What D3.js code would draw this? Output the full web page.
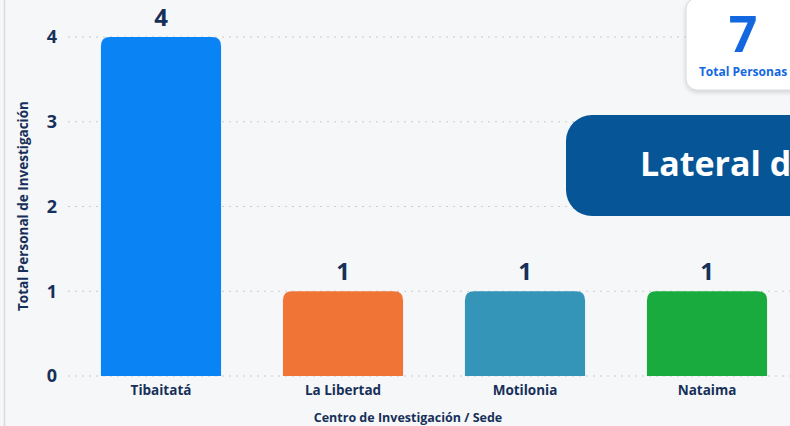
<!DOCTYPE html>
<html>
<head>
<meta charset="utf-8">
<script src="https://cdn.jsdelivr.net/npm/d3@7"></script>
<style>
  body { margin: 0; background: #f6f7f8; overflow: hidden; }
  svg { display: block; font-family: "Open Sans", "Noto Sans", sans-serif; }
</style>
</head>
<body>
<div id="chart"></div>
<script>
var width = 790;
var height = 426;

// data
var sedes = ["Tibaitatá", "La Libertad", "Motilonia", "Nataima"];
var personas = [4, 1, 1, 1];
var colores = ["#0a84f4", "#f07436", "#3495b8", "#1aab3f"];
var yTicks = [0, 1, 2, 3, 4];
var totalPersonas = 7;

var svg = d3.select("#chart").append("svg")
    .attr("width", width)
    .attr("height", height);

// panel left border
svg.append("line")
    .attr("x1", 4.5).attr("x2", 4.5)
    .attr("y1", 0).attr("y2", height)
    .style("stroke", "#d9dcdf")
    .style("stroke-width", 1.5);

var x = d3.scaleBand()
    .domain(sedes)
    .range([70, 798])
    .paddingInner(0.34)
    .paddingOuter(0.17);

var y = d3.scaleLinear()
    .domain([0, 4])
    .range([376, 37]);

// gridlines
svg.append("g")
    .selectAll("line")
    .data(yTicks)
    .enter()
    .append("line")
    .attr("x1", 68)
    .attr("x2", width)
    .attr("y1", function(d) { return y(d); })
    .attr("y2", function(d) { return y(d); })
    .style("stroke", "#c9ccd0")
    .style("stroke-width", 1)
    .style("stroke-dasharray", "2,5");

// y axis (labels only)
var yAxis = svg.append("g")
    .attr("transform", "translate(58,0)")
    .call(d3.axisLeft(y).tickValues(yTicks).tickFormat(d3.format("d")).tickSize(0));
yAxis.select(".domain").remove();
yAxis.selectAll("text")
    .attr("x", -1)
    .style("font-size", "18px")
    .style("font-weight", "700")
    .style("fill", "#16305a")
    .style("font-family", "'Open Sans', sans-serif");

// bars with rounded top corners
function barPath(d, i) {
    var x0 = x(sedes[i]);
    var w = x.bandwidth();
    var y0 = y(d);
    var y1 = y(0);
    var r = 9;
    return "M" + x0 + "," + y1 +
        "V" + (y0 + r) +
        "Q" + x0 + "," + y0 + " " + (x0 + r) + "," + y0 +
        "H" + (x0 + w - r) +
        "Q" + (x0 + w) + "," + y0 + " " + (x0 + w) + "," + (y0 + r) +
        "V" + y1 + "Z";
}

svg.append("g")
    .selectAll("path")
    .data(personas)
    .enter()
    .append("path")
    .attr("d", barPath)
    .attr("fill", function(d, i) { return colores[i]; });

// value labels
svg.append("g")
    .selectAll("text")
    .data(personas)
    .enter()
    .append("text")
    .attr("x", function(d, i) { return x(sedes[i]) + x.bandwidth() / 2; })
    .attr("y", function(d) { return y(d) - 11; })
    .attr("text-anchor", "middle")
    .style("font-size", "24px")
    .style("font-weight", "700")
    .style("fill", "#16305a")
    .text(function(d) { return d; });

// category labels
var xAxis = svg.append("g")
    .attr("transform", "translate(0,376)")
    .call(d3.axisBottom(x).tickSize(0));
xAxis.select(".domain").remove();
xAxis.selectAll("text")
    .attr("dy", "0")
    .attr("y", 19)
    .style("font-size", "13.5px")
    .style("font-weight", "700")
    .style("fill", "#16305a")
    .style("font-family", "'Open Sans', sans-serif");

// axis titles
svg.append("text")
    .attr("x", 408)
    .attr("y", 422)
    .attr("text-anchor", "middle")
    .style("font-size", "12.5px")
    .style("font-weight", "700")
    .style("fill", "#16305a")
    .text("Centro de Investigación / Sede");

svg.append("text")
    .attr("transform", "translate(28,206) rotate(-90)")
    .attr("text-anchor", "middle")
    .style("font-size", "13.5px")
    .style("font-weight", "700")
    .style("fill", "#16305a")
    .text("Total Personal de Investigación");

// total card
var defs = svg.append("defs");
var f = defs.append("filter").attr("id", "sh").attr("x", "-20%").attr("y", "-20%").attr("width", "140%").attr("height", "150%");
f.append("feDropShadow").attr("dx", 0).attr("dy", 2).attr("stdDeviation", 2)
    .attr("flood-color", "#000").attr("flood-opacity", 0.15);

svg.append("rect")
    .attr("x", 686).attr("y", -2)
    .attr("width", 130).attr("height", 92)
    .attr("rx", 11)
    .attr("fill", "#ffffff")
    .attr("stroke", "#d6d8db")
    .attr("filter", "url(#sh)");

svg.append("text")
    .attr("x", 743).attr("y", 52)
    .attr("text-anchor", "middle")
    .style("font-size", "50px")
    .style("font-weight", "700")
    .style("fill", "#1368e0")
    .text(totalPersonas);

svg.append("text")
    .attr("x", 743).attr("y", 76)
    .attr("text-anchor", "middle")
    .style("font-size", "12px")
    .style("font-weight", "700")
    .style("fill", "#1368e0")
    .text("Total Personas");

// banner
svg.append("rect")
    .attr("x", 566).attr("y", 115)
    .attr("width", 300).attr("height", 101)
    .attr("rx", 26)
    .attr("fill", "#065697");

svg.append("text")
    .attr("x", 640).attr("y", 176)
    .style("font-size", "34px")
    .style("font-weight", "700")
    .style("fill", "#ffffff")
    .text("Lateral de");
</script>
</body>
</html>
